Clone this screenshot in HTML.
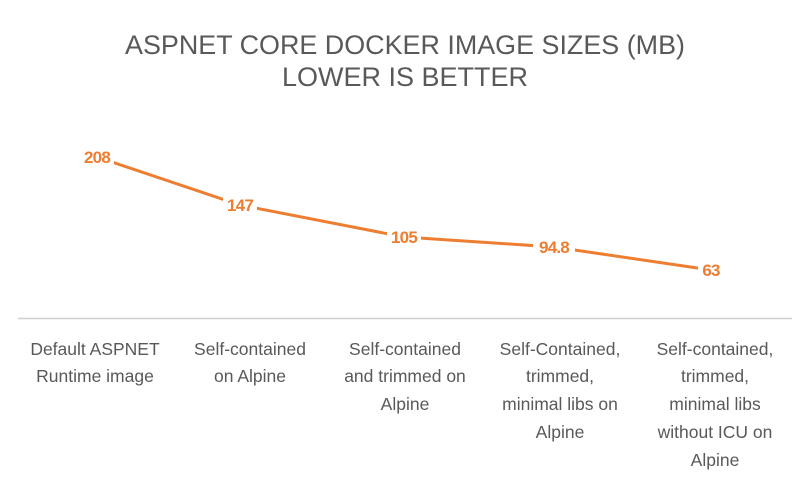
<!DOCTYPE html>
<html><head><style>
body{margin:0;background:#fff;}
svg{display:block;}
</style></head><body>
<svg width="807" height="478" xmlns="http://www.w3.org/2000/svg">
<rect width="807" height="478" fill="#fff"/>
<g font-family="Liberation Sans, sans-serif" fill="#595959" font-size="27" text-anchor="middle">
<text x="405" y="54" textLength="560" lengthAdjust="spacingAndGlyphs">ASPNET CORE DOCKER IMAGE SIZES (MB)</text>
<text x="405" y="86">LOWER IS BETTER</text>
</g>
<line x1="18" y1="318.5" x2="792" y2="318.5" stroke="#d0d0d0" stroke-width="1.5"/>
<polyline points="97,157 240,205 404,237 554,247 711,270" fill="none" stroke="#ED7D31" stroke-width="3"/>
<g font-family="Liberation Sans, sans-serif" font-weight="bold" fill="#ED7D31" font-size="17" text-anchor="middle" letter-spacing="-0.8">
<rect x="80" y="147" width="34" height="20" fill="#fff"/><text x="97" y="163">208</text>
<rect x="223" y="195" width="34" height="20" fill="#fff"/><text x="240" y="211">147</text>
<rect x="387" y="227" width="34" height="20" fill="#fff"/><text x="404" y="243">105</text>
<rect x="533" y="237" width="42" height="20" fill="#fff"/><text x="554" y="253">94.8</text>
<rect x="698" y="260" width="26" height="20" fill="#fff"/><text x="711" y="276">63</text>
</g>
<g font-family="Liberation Sans, sans-serif" fill="#595959" font-size="17.5" text-anchor="middle">
<text x="95" y="355">Default ASPNET</text><text x="95" y="382">Runtime image</text>
<text x="250" y="355">Self-contained</text><text x="250" y="382">on Alpine</text>
<text x="405" y="355">Self-contained</text><text x="405" y="382">and trimmed on</text><text x="405" y="410">Alpine</text>
<text x="560" y="355">Self-Contained,</text><text x="560" y="382">trimmed,</text><text x="560" y="410">minimal libs on</text><text x="560" y="438">Alpine</text>
<text x="715" y="355">Self-contained,</text><text x="715" y="382">trimmed,</text><text x="715" y="410">minimal libs</text><text x="715" y="438">without ICU on</text><text x="715" y="466">Alpine</text>
</g>
</svg>
</body></html>
